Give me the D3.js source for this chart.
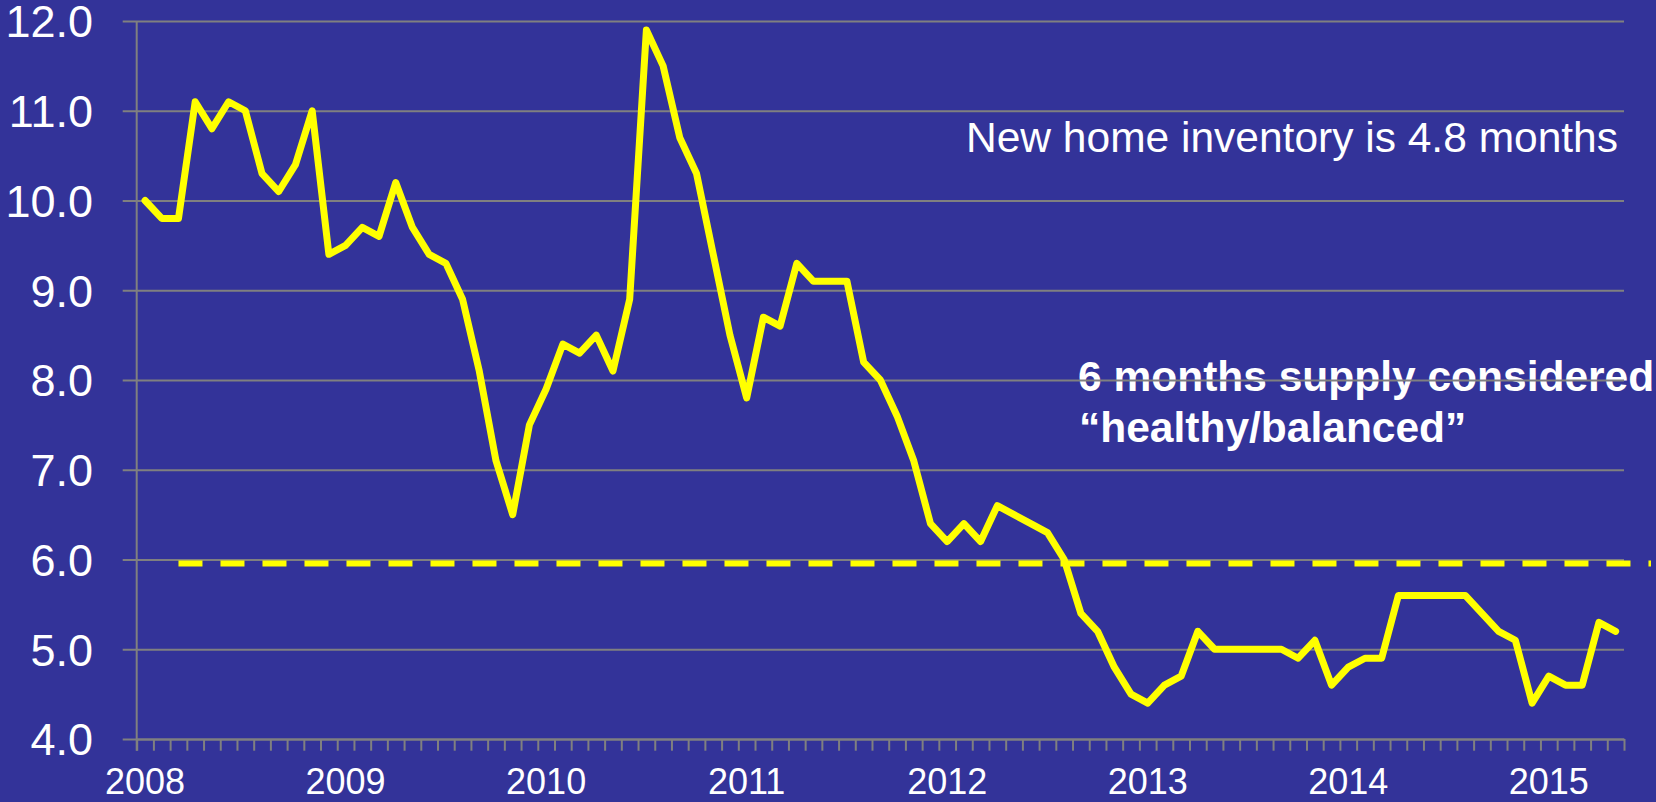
<!DOCTYPE html>
<html>
<head>
<meta charset="utf-8">
<script src="https://cdn.jsdelivr.net/npm/d3@7"></script>
<style>
    html, body { margin: 0; padding: 0; background: #333399; }
    svg { display: block; }
    text { font-family: Arial, "Liberation Sans", sans-serif; fill: #ffffff; }
</style>
</head>
<body>
<svg id="graph"></svg>
<script>
(function () {
    'use strict';

    // months' supply of new homes, Jan 2008 - May 2015
    var supply2008 = [10.0, 9.8, 9.8, 11.1, 10.8, 11.1, 11.0, 10.3, 10.1, 10.4, 11.0, 9.4];
    var supply2009 = [9.5, 9.7, 9.6, 10.2, 9.7, 9.4, 9.3, 8.9, 8.1, 7.1, 6.5, 7.5];
    var supply2010 = [7.9, 8.4, 8.3, 8.5, 8.1, 8.9, 11.9, 11.5, 10.7, 10.3, 9.4, 8.5];
    var supply2011 = [7.8, 8.7, 8.6, 9.3, 9.1, 9.1, 9.1, 8.2, 8.0, 7.6, 7.1, 6.4];
    var supply2012 = [6.2, 6.4, 6.2, 6.6, 6.5, 6.4, 6.3, 6.0, 5.4, 5.2, 4.8, 4.5];
    var supply2013 = [4.4, 4.6, 4.7, 5.2, 5.0, 5.0, 5.0, 5.0, 5.0, 4.9, 5.1, 4.6];
    var supply2014 = [4.8, 4.9, 4.9, 5.6, 5.6, 5.6, 5.6, 5.6, 5.4, 5.2, 5.1, 4.4];
    var supply2015 = [4.7, 4.6, 4.6, 5.3, 5.2];

    var yearLabels = ["2008", "2009", "2010", "2011", "2012", "2013", "2014", "2015"];
    var yTicks = [4, 5, 6, 7, 8, 9, 10, 11, 12];
    var healthyLevel = 6.0;

    var values = [].concat(supply2008, supply2009, supply2010, supply2011,
        supply2012, supply2013, supply2014, supply2015);
    var months = d3.timeMonths(new Date(2008, 0, 1), new Date(2015, 5, 1));

    var width = 1656,
        height = 802,
        plot = { left: 136.7, right: 1624, top: 21, bottom: 739 };

    var svg = d3.select("#graph")
        .attr("width", width)
        .attr("height", height);

    svg.append("rect")
        .attr("width", width)
        .attr("height", height)
        .attr("fill", "#333399");

    // category axis: one band per month, point in the middle of the band
    var x = d3.scaleLinear().domain([0, months.length]).range([plot.left, plot.right]),
        y = d3.scaleLinear().domain([4, 12]).range([plot.bottom, plot.top]);

    // annotations (gridlines run over them in the original)
    svg.append("text")
        .attr("x", 1618)
        .attr("y", 152)
        .attr("text-anchor", "end")
        .style("font-size", "42.5px")
        .text("New home inventory is 4.8 months");

    var note = svg.append("text")
        .attr("x", 1078)
        .attr("y", 391)
        .style("font-size", "42.5px")
        .style("font-weight", "bold");
    note.append("tspan").attr("x", 1078).text("6 months supply considered");
    note.append("tspan").attr("x", 1079).attr("dy", 51).text("\u201chealthy/balanced\u201d");

    // Y axis with gridlines
    var yAxis = svg.append("g")
        .attr("class", "y-axis")
        .attr("transform", "translate(" + plot.left + ",0)")
        .call(d3.axisLeft(y)
            .tickValues(yTicks)
            .tickFormat(d3.format(".1f"))
            .tickSize(14)
            .tickPadding(43));
    yAxis.select(".domain").remove();
    yAxis.selectAll(".tick line")
        .attr("x2", plot.right - plot.left)
        .attr("x1", -14)
        .attr("stroke", "#808080")
        .attr("stroke-width", 2);
    yAxis.selectAll(".tick text")
        .attr("x", 93 - plot.left)
        .attr("dy", "0.35em")
        .style("font-size", "45px")
        .style("font-family", "Arial, 'Liberation Sans', sans-serif")
        .attr("fill", "#ffffff");

    svg.append("line")
        .attr("x1", plot.left).attr("x2", plot.left)
        .attr("y1", plot.top).attr("y2", plot.bottom + 11.7)
        .attr("stroke", "#808080")
        .attr("stroke-width", 2);

    // X axis: tick marks at month boundaries
    var xAxis = svg.append("g")
        .attr("class", "x-axis")
        .attr("transform", "translate(0," + plot.bottom + ")")
        .call(d3.axisBottom(x)
            .tickValues(d3.range(months.length + 1))
            .tickFormat("")
            .tickSize(11.7)
            .tickSizeOuter(0));
    xAxis.select(".domain")
        .attr("stroke", "#808080")
        .attr("stroke-width", 2);
    xAxis.selectAll(".tick line")
        .attr("stroke", "#808080")
        .attr("stroke-width", 2);

    // year labels centred on each January
    var januaries = months.map(function (m, i) { return { m: m, i: i }; })
        .filter(function (d) { return d.m.getMonth() === 0; });

    svg.selectAll(".year")
        .data(januaries)
        .enter().append("text")
        .attr("class", "year")
        .attr("x", function (d) { return x(d.i + 0.5); })
        .attr("y", 794)
        .attr("text-anchor", "middle")
        .style("font-size", "36px")
        .text(function (d, i) { return yearLabels[i]; });

    // 6 months reference line
    svg.append("line")
        .attr("x1", x(2.5))
        .attr("x2", 1651)
        .attr("y1", y(healthyLevel) + 4)
        .attr("y2", y(healthyLevel) + 4)
        .attr("stroke", "#ffff00")
        .attr("stroke-width", 6)
        .attr("stroke-dasharray", "24 18");

    // define the line
    var line = d3.line()
        .x(function (d, i) { return x(i + 0.5); })
        .y(function (d) { return y(d); });

    svg.append("path")
        .datum(values)
        .attr("class", "line")
        .attr("d", line)
        .attr("fill", "none")
        .attr("stroke", "#ffff00")
        .attr("stroke-width", 7)
        .attr("stroke-linejoin", "round")
        .attr("stroke-linecap", "round");
})();
</script>
</body>
</html>
